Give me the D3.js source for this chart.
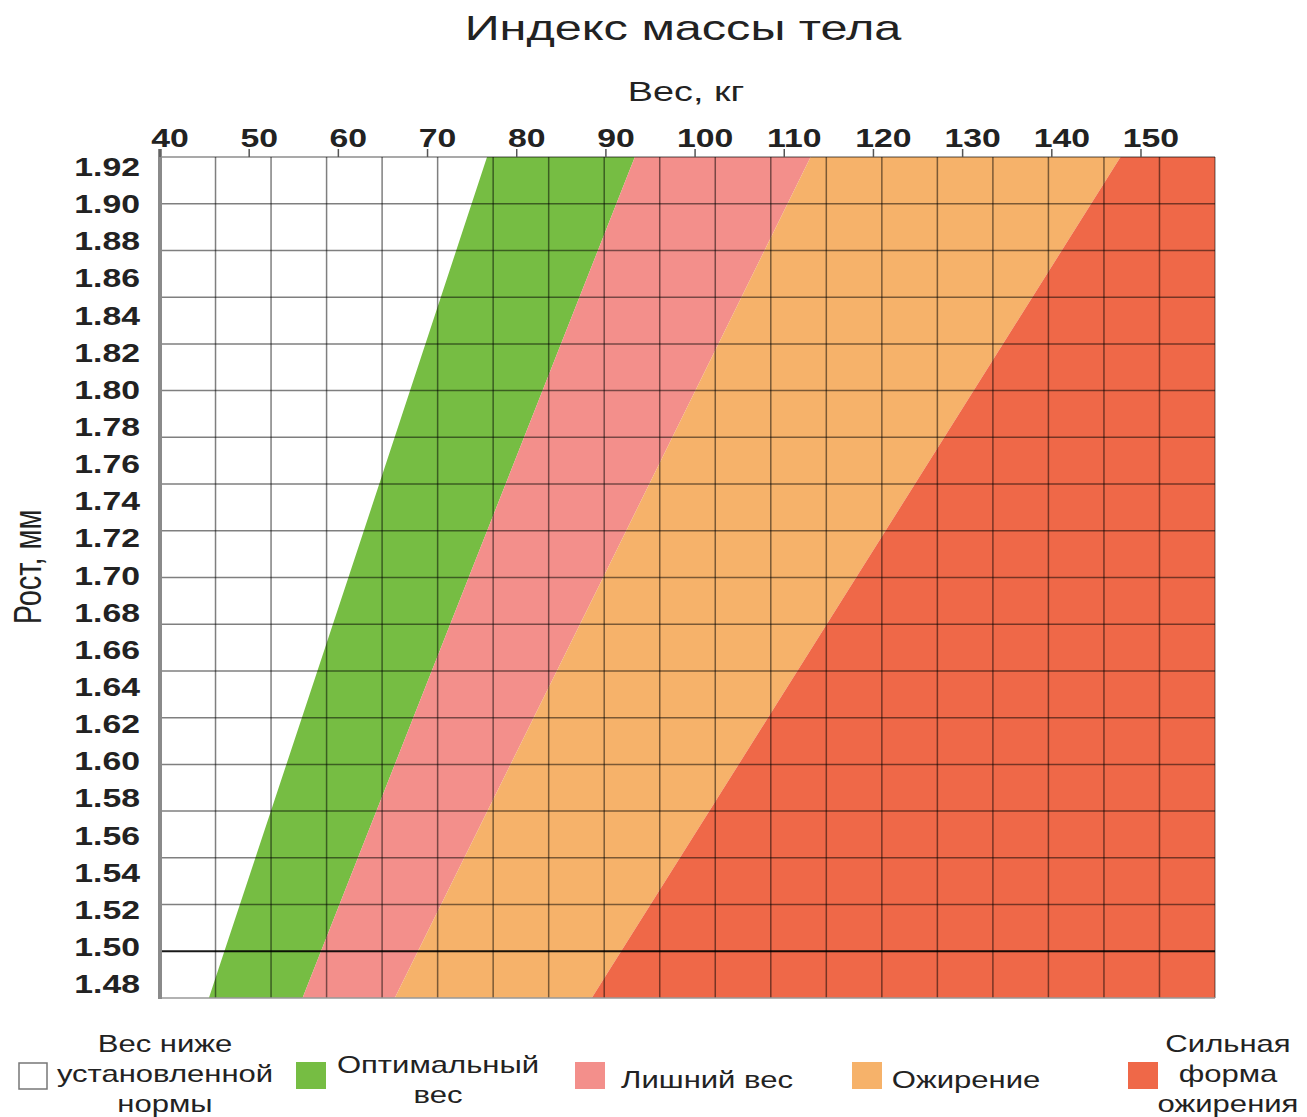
<!DOCTYPE html>
<html>
<head>
<meta charset="utf-8">
<script src="https://cdn.jsdelivr.net/npm/d3@7"></script>
<style>
  body { margin: 0; background: #fff; }
  text { font-family: "Liberation Sans", Arial, Helvetica, sans-serif; fill: #222; }
</style>
</head>
<body>
<svg id="chart" width="1307" height="1117"></svg>
<script>
// Weight (kg) along the top, height (m) down the side
const weightTicks = [40, 50, 60, 70, 80, 90, 100, 110, 120, 130, 140, 150];
const heightTicks = [1.92, 1.90, 1.88, 1.86, 1.84, 1.82, 1.80, 1.78, 1.76, 1.74, 1.72, 1.70,
                     1.68, 1.66, 1.64, 1.62, 1.60, 1.58, 1.56, 1.54, 1.52, 1.50, 1.48];
const weightDomain = [40, 158.3];
const heightDomain = [1.4725, 1.9254];

// Upper weight limit of each category at a few heights
const boundaryHeights = [1.48, 1.70, 1.92];
const underweightLimit = [46.0, 61.2, 76.3];
const optimalLimit = [56.6, 74.7, 92.8];
const overweightLimit = [67.1, 89.8, 112.4];
const obesityLimit = [89.4, 118.2, 147.0];

const categoryLines = [
  ["Вес ниже", "установленной", "нормы"],
  ["Оптимальный", "вес"],
  ["Лишний вес"],
  ["Ожирение"],
  ["Сильная", "форма", "ожирения"]
];
const categoryColors = ["#ffffff", "#76bd43", "#f38f8b", "#f6b26a", "#ef6848"];

// Background grid: 19 columns x 18 rows, second row line drawn dark
const gridColumns = 19, gridRows = 18, darkRow = 1;

const svg = d3.select("#chart");
const plot = { left: 160, right: 1215, top: 157, bottom: 998 };
const SX = 1.35; // horizontal stretch of lettering

const x = d3.scaleLinear().domain(weightDomain).range([plot.left, plot.right]);
const y = d3.scaleLinear().domain(heightDomain).range([plot.bottom, plot.top]);
const gx = d3.scaleLinear().domain([0, gridColumns]).range([plot.left, plot.right]);
const gy = d3.scaleLinear().domain([0, gridRows]).range([plot.bottom, plot.top]);

function stretched(sel, tx, ty, extra) {
  return sel.attr("transform", `translate(${tx},${ty}) scale(${SX},1)` + (extra || ""));
}

// Category bands
const limits = [underweightLimit, optimalLimit, overweightLimit, obesityLimit]
  .map(w => d3.scaleLinear().domain(boundaryHeights).range(w));
const samples = [heightDomain[0], ...boundaryHeights, heightDomain[1]];

svg.append("clipPath").attr("id", "plot-clip")
  .append("rect")
  .attr("x", plot.left).attr("y", plot.top)
  .attr("width", plot.right - plot.left).attr("height", plot.bottom - plot.top);

const bands = svg.append("g").attr("clip-path", "url(#plot-clip)");
bands.append("rect")
  .attr("x", plot.left).attr("y", plot.top)
  .attr("width", plot.right - plot.left).attr("height", plot.bottom - plot.top)
  .attr("fill", categoryColors[0]);

for (let i = 1; i < categoryColors.length; i++) {
  const lo = limits[i - 1];
  const hi = i < limits.length ? limits[i] : (() => weightDomain[1] + 20);
  const area = d3.area()
    .y(h => y(h))
    .x0(h => x(lo(h)))
    .x1(h => x(hi(h)));
  bands.append("path")
    .datum(samples)
    .attr("d", area)
    .attr("fill", categoryColors[i]);
}

// Grid
const grid = svg.append("g");
grid.selectAll("line.v")
  .data(d3.range(1, gridColumns))
  .join("line").attr("class", "v")
  .attr("x1", d => gx(d)).attr("x2", d => gx(d))
  .attr("y1", plot.top).attr("y2", plot.bottom)
  .attr("stroke", "#000").attr("stroke-opacity", 0.5).attr("stroke-width", 1.5);
grid.selectAll("line.h")
  .data(d3.range(1, gridRows))
  .join("line").attr("class", "h")
  .attr("x1", plot.left).attr("x2", plot.right)
  .attr("y1", d => gy(d)).attr("y2", d => gy(d))
  .attr("stroke", "#000")
  .attr("stroke-opacity", d => d === darkRow ? 0.9 : 0.5)
  .attr("stroke-width", d => d === darkRow ? 2 : 1.5);

// Frame
svg.append("line").attr("x1", plot.left).attr("x2", plot.right)
  .attr("y1", plot.top).attr("y2", plot.top)
  .attr("stroke", "#000").attr("stroke-opacity", 0.45).attr("stroke-width", 1.5);
svg.append("line").attr("x1", plot.right).attr("x2", plot.right)
  .attr("y1", plot.top).attr("y2", plot.bottom)
  .attr("stroke", "#000").attr("stroke-opacity", 0.4).attr("stroke-width", 1.5);
svg.append("line").attr("x1", plot.left).attr("x2", plot.right)
  .attr("y1", plot.bottom).attr("y2", plot.bottom)
  .attr("stroke", "#999").attr("stroke-width", 1.5);
svg.append("line").attr("x1", plot.left).attr("x2", plot.left)
  .attr("y1", plot.top - 8).attr("y2", plot.bottom + 1)
  .attr("stroke", "#8a8a8a").attr("stroke-width", 4);

// Top weight axis
const xAxis = svg.append("g");
xAxis.selectAll("line")
  .data(weightTicks)
  .join("line")
  .attr("x1", d => x(d)).attr("x2", d => x(d))
  .attr("y1", plot.top - 8).attr("y2", plot.top)
  .attr("stroke", "#555").attr("stroke-width", 1.5);
xAxis.selectAll("text")
  .data(weightTicks)
  .join("text")
  .attr("text-anchor", "middle")
  .attr("font-size", 25).attr("font-weight", "bold")
  .each(function (d) { stretched(d3.select(this), x(d) + 10, plot.top - 10); })
  .text(d => d);

// Left height axis
svg.append("g").selectAll("text")
  .data(heightTicks)
  .join("text")
  .attr("text-anchor", "end")
  .attr("dy", "0.36em")
  .attr("font-size", 25).attr("font-weight", "bold")
  .each(function (d) { stretched(d3.select(this), 140, y(d)); })
  .text(d => d.toFixed(2));

// Titles
stretched(svg.append("text"), 683, 40)
  .attr("text-anchor", "middle").attr("font-size", 36)
  .text("Индекс массы тела");
stretched(svg.append("text"), 686, 101)
  .attr("text-anchor", "middle").attr("font-size", 28)
  .text("Вес, кг");
svg.append("text")
  .attr("transform", `translate(41,567) scale(${SX},1) rotate(-90)`)
  .attr("text-anchor", "middle").attr("font-size", 29)
  .text("Рост, мм");

// Legend
const swatchX = [18, 296, 575, 852, 1128];
const labelX = [165, 438, 707, 966, 1228];
const swatchY = 1062, lineStep = 30;
const legend = svg.append("g");
categoryColors.forEach((c, i) => {
  legend.append("rect")
    .attr("x", swatchX[i] + (i === 0 ? 1 : 0)).attr("y", swatchY + (i === 0 ? 1 : 0))
    .attr("width", i === 0 ? 28 : 30).attr("height", i === 0 ? 26 : 27)
    .attr("fill", c)
    .attr("stroke", i === 0 ? "#777" : "none").attr("stroke-width", 1.5);
  const lines = categoryLines[i];
  const mid = lines.length === 3 ? 1074 : 1080;
  lines.forEach((t, k) => {
    const cy = mid + (k - (lines.length - 1) / 2) * lineStep;
    stretched(legend.append("text"), labelX[i], cy)
      .attr("text-anchor", "middle").attr("dy", "0.36em")
      .attr("font-size", 23).text(t);
  });
});
</script>
</body>
</html>
